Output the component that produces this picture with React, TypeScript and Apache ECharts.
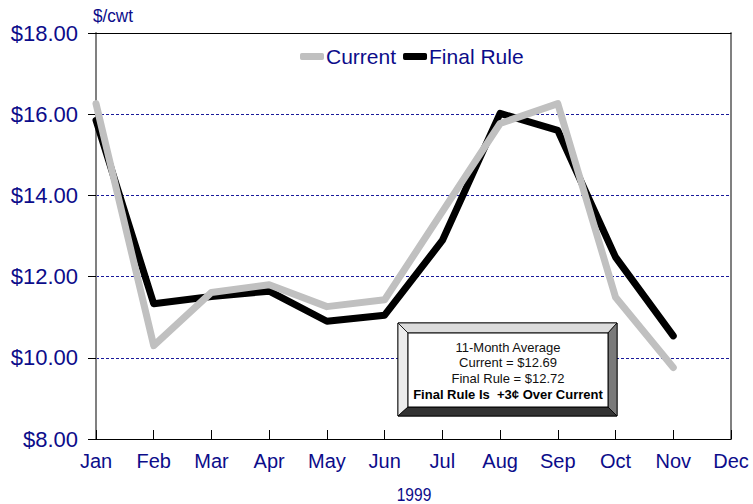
import React, { useEffect, useRef } from "react";
import * as echarts from "echarts";

const months = ["Jan", "Feb", "Mar", "Apr", "May", "Jun", "Jul", "Aug", "Sep", "Oct", "Nov", "Dec"];
const currentValues = [16.26, 10.3, 11.61, 11.8, 11.26, 11.43, 13.6, 15.77, 16.26, 11.49, 9.76];
const finalRuleValues = [15.85, 11.33, 11.51, 11.64, 10.9, 11.05, 12.89, 16.02, 15.6, 12.48, 10.54];
const boxLines = ["11-Month Average", "Current = $12.69", "Final Rule = $12.72"];
const boxLastLine = "Final Rule Is  +3\u00a2 Over Current";
const unitLabel = "$/cwt";
const yearLabel = "1999";

const NAVY = "#0c0c8a";
const FONT = "'Liberation Sans', Arial, sans-serif";

export default function App() {
  const ref = useRef<HTMLDivElement>(null);
  useEffect(() => {
    if (!ref.current) return;
    const chart = echarts.init(ref.current, undefined, { renderer: "svg" });
    const bx0 = 398, by0 = 323, bx1 = 617, by1 = 416;
    const ix0 = 408, iy0 = 333, ix1 = 608, iy1 = 407;
    const Z = 100;
    chart.setOption({
      animation: false,
      backgroundColor: "#ffffff",
      textStyle: { fontFamily: FONT },
      grid: { left: 96, right: 22, top: 33, bottom: 65 },
      legend: {
        left: 300,
        top: 46,
        padding: 0,
        icon: "roundRect",
        itemWidth: 24,
        itemHeight: 7,
        itemGap: 7,
        data: ["Current", "Final Rule"],
        textStyle: { color: NAVY, fontSize: 21, fontFamily: FONT, padding: [0, 0, 0, -3] },
      },
      xAxis: [
        {
          type: "category",
          data: months,
          boundaryGap: false,
          axisLine: { lineStyle: { color: "#000", width: 1 } },
          axisTick: { inside: true, length: 9, lineStyle: { color: "#000", width: 1 } },
          axisLabel: { color: NAVY, fontSize: 20, margin: 12, fontFamily: FONT },
          splitLine: { show: false },
        },
        {
          type: "category",
          data: months,
          boundaryGap: false,
          position: "top",
          axisLine: { lineStyle: { color: "#000", width: 1 } },
          axisTick: { show: false },
          axisLabel: { show: false },
          splitLine: { show: false },
        },
      ],
      yAxis: [
        {
          type: "value",
          min: 8,
          max: 18,
          interval: 2,
          axisLine: { show: true, lineStyle: { color: "#808080", width: 2 } },
          axisTick: { show: true, inside: false, length: 8, lineStyle: { color: "#000", width: 1 } },
          axisLabel: {
            color: NAVY,
            fontSize: 22,
            margin: 18,
            fontFamily: FONT,
            formatter: (v: number) => "$" + v.toFixed(2),
          },
          splitLine: { show: true, lineStyle: { color: "#1a1a9a", type: [3, 2], width: 1 } },
        },
        {
          type: "value",
          min: 8,
          max: 18,
          interval: 2,
          position: "right",
          axisLine: { show: true, lineStyle: { color: "#808080", width: 2 } },
          axisTick: { show: false },
          axisLabel: { show: false },
          splitLine: { show: false },
        },
      ],
      series: [
        {
          name: "Final Rule",
          type: "line",
          data: finalRuleValues,
          symbol: "none",
          color: "#000000",
          lineStyle: { color: "#000000", width: 7, cap: "round", join: "round" },
          z: 2,
        },
        {
          name: "Current",
          type: "line",
          data: currentValues,
          symbol: "none",
          color: "#c0c0c0",
          lineStyle: { color: "#c0c0c0", width: 7, cap: "round", join: "round" },
          z: 3,
        },
      ],
      graphic: [
        {
          type: "text",
          x: 93,
          y: 6,
          scaleX: 0.9,
          style: { text: unitLabel, fill: NAVY, fontSize: 19, fontFamily: FONT },
        },
        {
          type: "text",
          x: 414,
          y: 485,
          scaleX: 0.82,
          style: { text: yearLabel, fill: NAVY, fontSize: 19, fontFamily: FONT, align: "center" },
        },
        { type: "rect", z: Z, shape: { x: bx0, y: by0, width: bx1 - bx0, height: by1 - by0 }, style: { fill: "#fff", stroke: "#000", lineWidth: 1 } },
        { type: "polygon", z: Z, shape: { points: [[bx0, by0], [bx1, by0], [ix1, iy0], [ix0, iy0]] }, style: { fill: "#dcdcdc", stroke: "#000", lineWidth: 0.8 } },
        { type: "polygon", z: Z, shape: { points: [[bx0, by0], [ix0, iy0], [ix0, iy1], [bx0, by1]] }, style: { fill: "#ececec", stroke: "#000", lineWidth: 0.8 } },
        { type: "polygon", z: Z, shape: { points: [[bx1, by0], [bx1, by1], [ix1, iy1], [ix1, iy0]] }, style: { fill: "#7a7a7a", stroke: "#000", lineWidth: 0.8 } },
        { type: "polygon", z: Z, shape: { points: [[bx0, by1], [ix0, iy1], [ix1, iy1], [bx1, by1]] }, style: { fill: "#333333", stroke: "#000", lineWidth: 0.8 } },
        { type: "rect", z: Z + 1, shape: { x: ix0, y: iy0, width: ix1 - ix0, height: iy1 - iy0 }, style: { fill: "#fff", stroke: "#000", lineWidth: 1 } },
        ...boxLines.map((t, i) => ({
          type: "text",
          z: Z + 2,
          x: (ix0 + ix1) / 2,
          y: 347 + i * 15.5,
          style: { text: t, fill: "#111", fontSize: 13, fontFamily: FONT, align: "center", verticalAlign: "middle" },
        })),
        {
          type: "text",
          z: Z + 2,
          x: (ix0 + ix1) / 2,
          y: 394,
          style: { text: boxLastLine, fill: "#000", fontSize: 13, fontWeight: "bold", fontFamily: FONT, align: "center", verticalAlign: "middle" },
        },
      ],
    });
    return () => chart.dispose();
  }, []);
  return (
    <div
      ref={ref}
      style={{ position: "fixed", left: 0, top: 0, width: 753, height: 504, background: "#fff" }}
    />
  );
}
